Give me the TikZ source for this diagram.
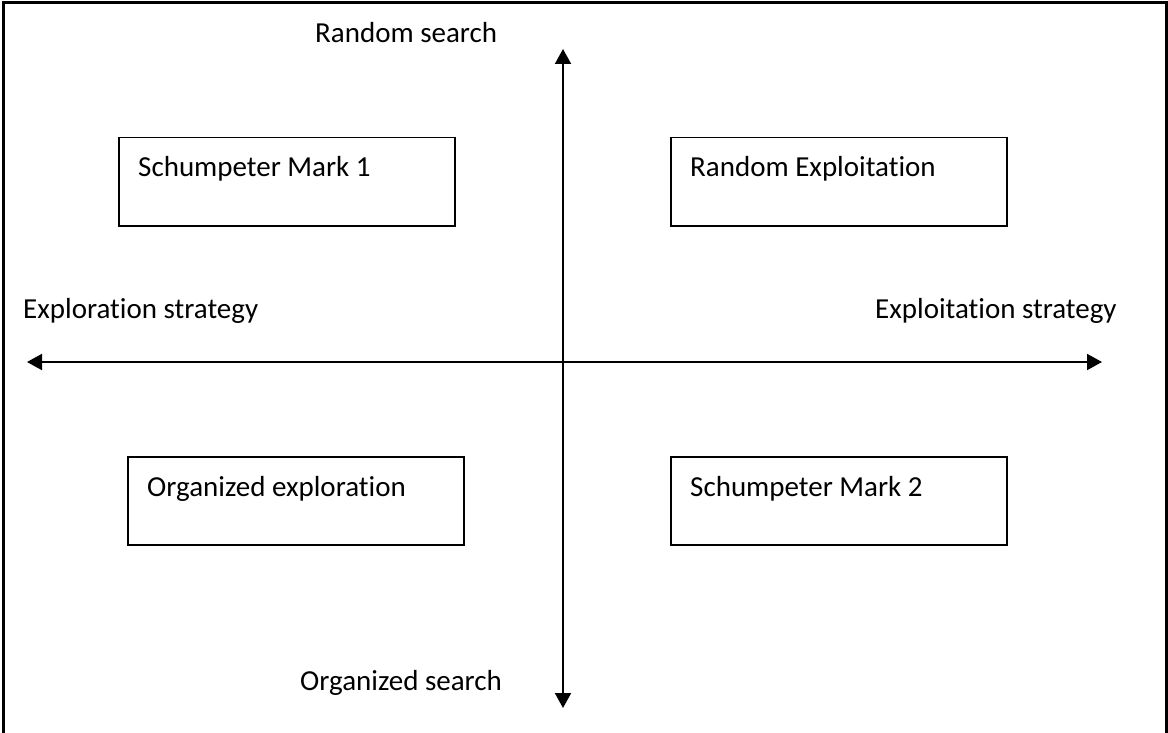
\documentclass[tikz,border=0pt]{standalone}
\usepackage{fontspec}
\setmainfont[Ligatures=NoCommon]{Carlito}
\usetikzlibrary{arrows.meta}

\begin{document}
\begin{tikzpicture}[x=1pt, y=-1pt,
    quadbox/.style={draw, line width=1.5pt, minimum width=336pt, minimum height=88pt,
      anchor=north west, inner sep=0pt},
    quadtext/.style={anchor=base west, inner sep=0pt, font=\fontsize{29}{34}\selectfont},
    axis/.style={line width=2pt,
      {Triangle[length=15pt,width=16pt]}-{Triangle[length=15pt,width=16pt]}}]
  \useasboundingbox (0,0) rectangle (1168,733);

  % Outer frame, open at the bottom
  \draw[line width=3pt] (3,733) -- (3,3) -- (1166.5,3) -- (1166.5,733);

  % Ends of the two axes
  \coordinate (top) at (563,49);
  \coordinate (bottom) at (563,708);
  \coordinate (left) at (27,362);
  \coordinate (right) at (1102,362);

  % Axes
  \draw[axis] (top) -- (bottom);
  \draw[axis] (left) -- (right);

  % Axis labels
  \node[quadtext] (randsearch) at (315,43) {Random search};
  \node[quadtext] (orgsearch) at (300,690) {Organized search};
  \node[quadtext] (explore) at (23,318) {Exploration strategy};
  \node[quadtext] (exploit) at (875,318) {Exploitation strategy};

  % The four quadrant boxes
  \node[quadbox] (mark1) at (118,137) {};
  \node[quadbox] (randexp) at (670,137) {};
  \node[quadbox] (orgexp) at (127,456) {};
  \node[quadbox] (mark2) at (670,456) {};

  % Box texts
  \node[quadtext] at ([shift={(20,40)}]mark1.north west) {Schumpeter Mark 1};
  \node[quadtext] at ([shift={(20,40)}]randexp.north west) {Random Exploitation};
  \node[quadtext] at ([shift={(20,40)}]orgexp.north west) {Organized exploration};
  \node[quadtext] at ([shift={(20,40)}]mark2.north west) {Schumpeter Mark 2};
\end{tikzpicture}
\end{document}
